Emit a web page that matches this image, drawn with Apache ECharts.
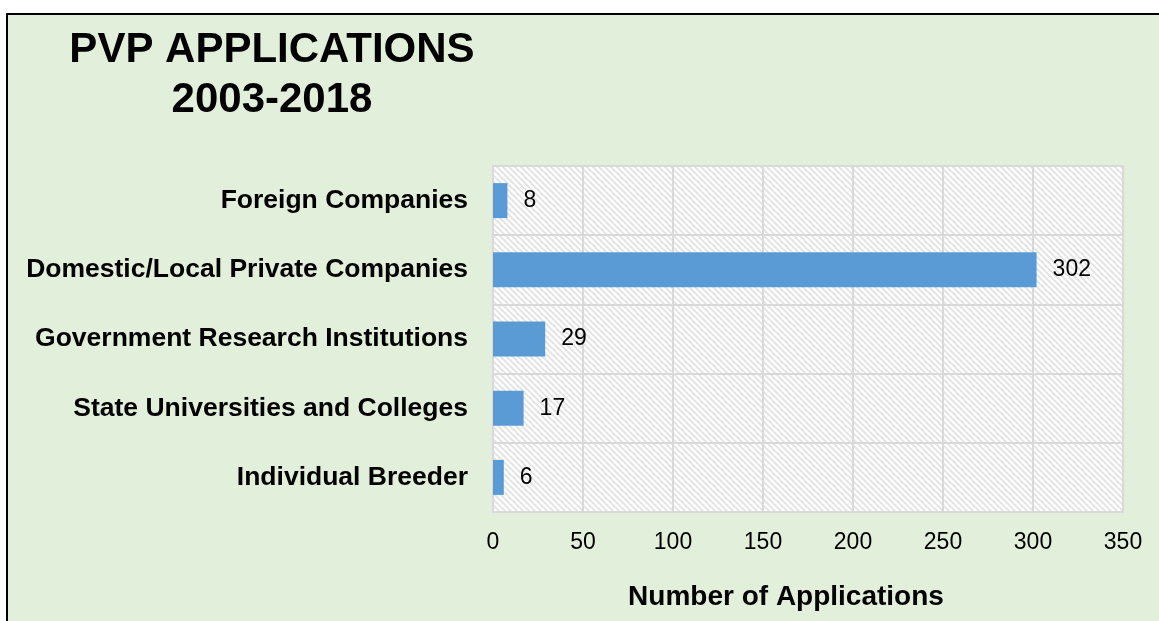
<!DOCTYPE html>
<html>
<head>
<meta charset="utf-8">
<script src="https://cdn.jsdelivr.net/npm/echarts@6/dist/echarts.min.js"></script>
<style>
  html, body { margin: 0; padding: 0; background: #fff; }
  .frame {
    position: absolute;
    left: 6px;
    top: 13px;
    width: 1200px;
    height: 700px;
    background: #e2efda;
    border-left: 2px solid #000;
    border-top: 2px solid #000;
  }
  #chart { position: absolute; left: 0; top: 0; width: 1159px; height: 621px; }
</style>
</head>
<body>
<div class="frame"></div>
<div id="chart"></div>
<script>
// data, top to bottom as in the picture
const categories = [
  'Foreign Companies',
  'Domestic/Local Private Companies',
  'Government Research Institutions',
  'State Universities and Colleges',
  'Individual Breeder'
]
const applications = [8, 302, 29, 17, 6]
const xTicks = [0, 50, 100, 150, 200, 250, 300, 350]

const FONT = '"Liberation Sans", Arial, sans-serif'

// light diagonal hatch used as plot background
const makeHatch = () => {
  const s = 6
  const c = document.createElement('canvas')
  c.width = s
  c.height = s
  const ctx = c.getContext('2d')
  ctx.fillStyle = '#ffffff'
  ctx.fillRect(0, 0, s, s)
  ctx.strokeStyle = '#e2e2e2'
  ctx.lineWidth = 1.8
  ctx.beginPath()
  for (const o of [-s, 0, s]) {
    ctx.moveTo(o - 1, -1)
    ctx.lineTo(o + s + 1, s + 1)
  }
  ctx.stroke()
  return c
}

const chart = echarts.init(document.getElementById('chart'))

const option = {
  backgroundColor: 'transparent',
  animation: false,
  title: {
    text: 'PVP APPLICATIONS\n2003-2018',
    left: 267,
    top: 20,
    textAlign: 'center',
    textStyle: {
      fontFamily: FONT,
      fontSize: 42,
      fontWeight: 'bold',
      color: '#000',
      lineHeight: 50
    }
  },
  grid: {
    left: 493,
    right: 36,
    top: 166,
    bottom: 109,
    show: true,
    backgroundColor: { image: makeHatch(), repeat: 'repeat' },
    borderColor: '#d9d9d9',
    borderWidth: 2
  },
  xAxis: {
    type: 'value',
    min: xTicks[0],
    max: xTicks[xTicks.length - 1],
    interval: xTicks[1] - xTicks[0],
    name: 'Number of Applications',
    nameLocation: 'middle',
    nameGap: 71,
    nameTextStyle: {
      fontFamily: FONT,
      fontSize: 28,
      fontWeight: 'bold',
      color: '#000',
      padding: [0, 44, 0, 0]
    },
    axisLine: { show: false },
    axisTick: { show: false },
    axisLabel: {
      margin: 19,
      fontFamily: FONT,
      fontSize: 23,
      color: '#000'
    },
    splitLine: { lineStyle: { color: '#d9d9d9', width: 2 } }
  },
  yAxis: {
    type: 'category',
    inverse: true,
    data: categories,
    axisLine: { lineStyle: { color: '#d9d9d9', width: 2 } },
    axisTick: { show: false },
    axisLabel: {
      margin: 25,
      fontFamily: FONT,
      fontSize: 26.5,
      fontWeight: 'bold',
      color: '#000'
    },
    splitLine: { show: true, lineStyle: { color: '#d9d9d9', width: 2 } }
  },
  series: [{
    type: 'bar',
    data: applications,
    barWidth: 35,
    itemStyle: { color: '#5b9bd5' },
    label: {
      show: true,
      position: 'right',
      distance: 16,
      fontFamily: FONT,
      fontSize: 23,
      color: '#000'
    }
  }]
}

chart.setOption(option)
</script>
</body>
</html>
